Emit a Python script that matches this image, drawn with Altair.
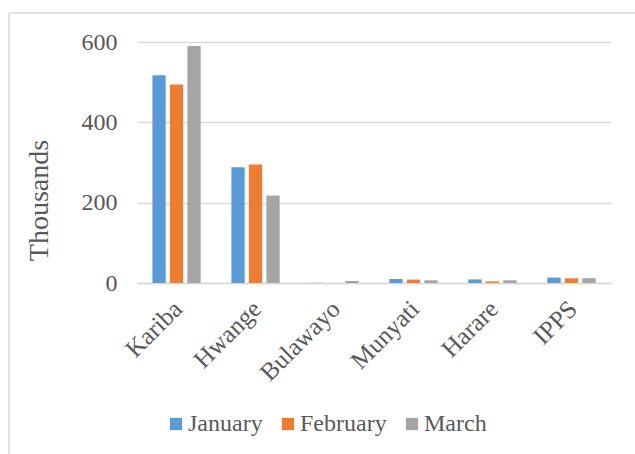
import altair as alt
import pandas as pd

# Power stations and monthly generation (thousands)
stations = ["Kariba", "Hwange", "Bulawayo", "Munyati", "Harare", "IPPS"]
months = ["January", "February", "March"]
january = [517, 288, 0.5, 10, 9, 13.5]
february = [494, 295, 0, 8.5, 4, 11.7]
march = [590, 218, 5, 6.7, 6.7, 12]
month_colors = ["#5B9BD5", "#ED7D31", "#A5A5A5"]

rows = []
for month, series in zip(months, [january, february, march]):
    for station, value in zip(stations, series):
        rows.append({"station": station, "month": month, "value": value})
df = pd.DataFrame(rows)

FONT = "Liberation Serif"
TEXT = "#595959"
GRID = "#D9D9D9"

bars = alt.Chart(df).mark_bar().encode(
    x=alt.X(
        "station:N",
        sort=stations,
        scale=alt.Scale(paddingInner=0.389, paddingOuter=0.195),
        axis=alt.Axis(
            title=None,
            labelAngle=-45,
            labelFont=FONT,
            labelFontSize=25,
            labelColor=TEXT,
            labelPadding=13,
            labelOffset=-7,
            ticks=False,
            domainColor=GRID,
            domainWidth=1.5,
            grid=False,
        ),
    ),
    xOffset=alt.XOffset("month:N", sort=months, scale=alt.Scale(paddingInner=0.24, paddingOuter=0)),
    y=alt.Y(
        "value:Q",
        scale=alt.Scale(domain=[0, 600], nice=False),
        axis=alt.Axis(
            title="Thousands",
            values=[0, 200, 400, 600],
            labelFont=FONT,
            labelFontSize=24,
            labelColor=TEXT,
            labelPadding=20,
            ticks=False,
            domain=False,
            gridColor=GRID,
            gridWidth=1.5,
            titleFont=FONT,
            titleFontSize=28,
            titleFontWeight="normal",
            titleColor=TEXT,
            titleAngle=-90,
            titleBaseline="middle",
            titleAlign="center",
            titleX=-98,
            titleY=158,
        ),
    ),
    color=alt.Color(
        "month:N",
        sort=months,
        scale=alt.Scale(domain=months, range=month_colors),
        legend=alt.Legend(
            title=None,
            orient="none",
            direction="horizontal",
            legendX=27,
            legendY=370,
            symbolType="square",
            symbolSize=150,
            symbolStrokeWidth=0,
            symbolOpacity=1,
            labelFont=FONT,
            labelFontSize=24,
            labelColor=TEXT,
            labelOffset=0,
            columnPadding=13,
            padding=0,
        ),
    ),
)

# Thin frame around the chart area
frame_src = alt.Data(values=[{}])
frame_top = alt.Chart(frame_src).mark_rule(color=GRID, strokeWidth=1.5).encode(
    x=alt.value(-128), x2=alt.value(520), y=alt.value(-29)
)
frame_left = alt.Chart(frame_src).mark_rule(color=GRID, strokeWidth=1.5).encode(
    x=alt.value(-128), y=alt.value(-29), y2=alt.value(430)
)

chart = (
    alt.layer(bars, frame_top, frame_left)
    .properties(
        width=474,
        height=241,
        autosize=alt.AutoSizeParams(type="none"),
        padding={"left": 137, "top": 42, "right": 24, "bottom": 171},
        background="white",
    )
    .configure_view(stroke=None)
)

chart.save("out.html", embed_options={"renderer": "svg", "actions": False})
